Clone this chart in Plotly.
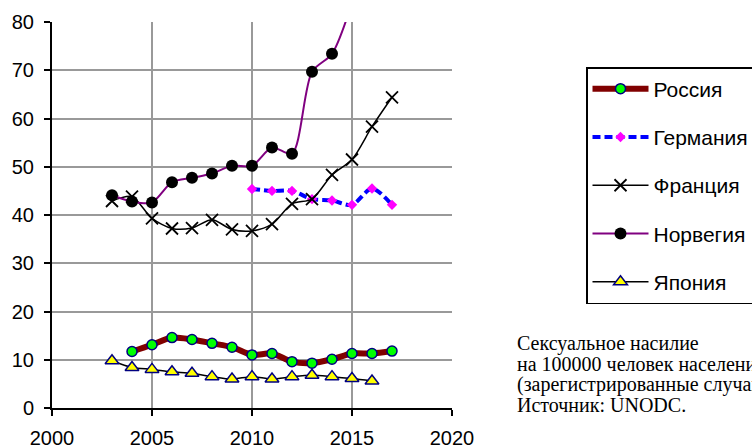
import plotly.graph_objects as go

years_russia = list(range(2004, 2018))
russia = [11.7, 13.1, 14.6, 14.2, 13.4, 12.6, 11.0, 11.3, 9.6, 9.3, 10.1, 11.3, 11.3, 11.8]

years_germany = list(range(2010, 2018))
germany = [45.4, 45.0, 45.0, 43.3, 43.0, 42.1, 45.5, 42.1]

years_france = list(range(2003, 2018))
france = [42.9, 43.8, 39.3, 37.2, 37.3, 39.0, 37.0, 36.7, 38.1, 42.3, 43.3, 48.3, 51.5, 58.3, 64.4]

years_norway = list(range(2003, 2016))
norway = [44.1, 42.8, 42.6, 46.8, 47.7, 48.6, 50.2, 50.2, 54.0, 52.7, 69.7, 73.4, 84.0]

years_japan = list(range(2003, 2017))
japan = [9.8, 8.4, 8.0, 7.5, 7.2, 6.5, 6.0, 6.5, 6.0, 6.5, 6.8, 6.5, 6.1, 5.6]

series_names = ["Россия", "Германия", "Франция", "Норвегия", "Япония"]
x_ticks = [2000, 2005, 2010, 2015, 2020]
y_ticks = [0, 10, 20, 30, 40, 50, 60, 70, 80]
note_lines = ["Сексуальное насилие", "на 100000 человек населения",
              "(зарегистрированные случаи).", "Источник: UNODC."]

W, H = 752, 448
ML, MR, MT, MB = 52, 300, 22, 40
PW, PH = W - ML - MR, H - MT - MB

def px_x(p):
    return (p - ML) / PW

def px_y(p):
    return (H - MB - p) / PH

fig = go.Figure()
fig.add_trace(go.Scatter(
    x=years_russia, y=russia, name=series_names[0], legendgroup="a",
    mode="lines+markers", line=dict(color="#800000", width=6, shape="spline", smoothing=0.8),
    marker=dict(symbol="circle", size=10, color="#00FF00", line=dict(color="#000080", width=1.5))))
fig.add_trace(go.Scatter(
    x=years_germany, y=germany, name=series_names[1], legendgroup="b",
    mode="lines+markers", line=dict(color="#0000FF", width=4, dash="8px,4px", shape="spline", smoothing=0.8),
    marker=dict(symbol="diamond", size=8, color="#FF00FF")))
fig.add_trace(go.Scatter(
    x=years_france, y=france, name=series_names[2], legendgroup="c",
    mode="lines+markers", line=dict(color="#000000", width=1.5, shape="spline", smoothing=0.8),
    marker=dict(symbol="x-thin-open", size=12, color="#000000", line=dict(color="#000000", width=1.8))))
fig.add_trace(go.Scatter(
    x=years_norway, y=norway, name=series_names[3], legendgroup="d",
    mode="lines+markers", line=dict(color="#800080", width=2, shape="spline", smoothing=0.8),
    marker=dict(symbol="circle", size=12, color="#000000")))
fig.add_trace(go.Scatter(
    x=years_japan, y=japan, name=series_names[4], legendgroup="e",
    mode="lines+markers", line=dict(color="#000000", width=1.5, shape="spline", smoothing=0.8),
    marker=dict(symbol="triangle-up", size=12, color="#FFFF00", line=dict(color="#000080", width=1.5))))

for i, t in enumerate(note_lines):
    fig.add_annotation(text=t, xref="paper", yref="paper", x=px_x(515), y=px_y(343 + i * 20.5),
                       xanchor="left", yanchor="middle", showarrow=False, align="left",
                       font=dict(family="Liberation Serif", size=20, color="#000000"))

axis_font = dict(family="Liberation Sans", size=20, color="#000000")
fig.update_layout(
    width=W, height=H,
    margin=dict(l=ML, r=MR, t=MT, b=MB, autoexpand=False),
    paper_bgcolor="white", plot_bgcolor="white",
    showlegend=True,
    legend=dict(x=px_x(586), y=px_y(67), xanchor="left", yanchor="top",
                bordercolor="#000000", borderwidth=1.5, bgcolor="white",
                font=dict(family="Liberation Sans", size=21, color="#000000"),
                tracegroupgap=18, itemwidth=56),
    xaxis=dict(range=[2000, 2020], tickvals=x_ticks, ticktext=[str(v) for v in x_ticks],
               showgrid=True, gridcolor="#999999", gridwidth=1.5,
               showline=True, linecolor="#000000", linewidth=2,
               ticks="outside", ticklen=6, tickwidth=2, tickcolor="#000000",
               tickfont=axis_font, ticklabelstandoff=5, zeroline=False),
    yaxis=dict(range=[0, 80], tickvals=y_ticks, ticktext=[str(v) for v in y_ticks],
               showgrid=True, gridcolor="#999999", gridwidth=1.5,
               showline=True, linecolor="#000000", linewidth=2,
               ticks="outside", ticklen=6, tickwidth=2, tickcolor="#000000",
               tickfont=axis_font, ticklabelstandoff=6, zeroline=False),
)
fig.write_html("out.html", config={"displayModeBar": False},
               post_script="document.body.style.margin='0';document.body.style.overflow='hidden';")
